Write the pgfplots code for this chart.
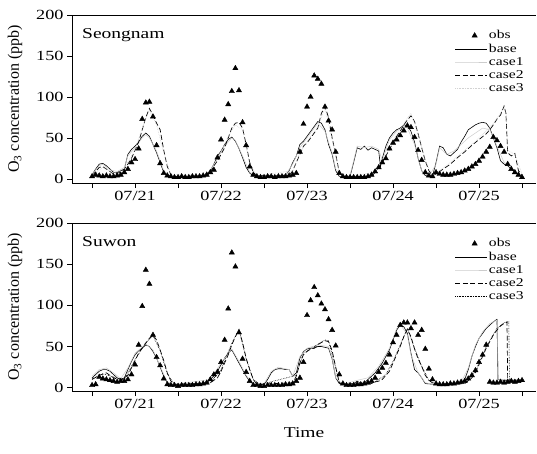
\documentclass[border=0pt]{standalone}
\usepackage{pgfplots}
\pgfplotsset{compat=1.18}
\usepackage{fontspec}
\setmainfont[FakeStretch=1.3]{Liberation Serif}
\newfontfamily\ylfont{Liberation Serif}

\pgfplotsset{
  panel/.style={
    scale only axis, width=464pt, height=168pt,
    xmin=-5.6, xmax=123.9,
    axis x line=box, axis y line=left,
    axis line style={-, line width=0.8pt},
    xtick={0,12,...,120},
    xticklabels={,07/21,,07/22,,07/23,,07/24,,07/25,},
    ytick={0,50,100,150,200},
    xtick pos=left, ytick pos=left,
    tick align=outside, major tick length=5pt,
    tick style={black, line width=0.7pt},
    tick label style={font=\fontsize{14}{16}\selectfont},
    /pgf/number format/assume math mode=true,
    every axis y label/.style={at={(rel axis cs:-0.123,0.5)}, rotate=90, anchor=center},
    ylabel={\ylfont\fontsize{16}{18}\selectfont O\textsubscript{3} concentration (ppb)},
    legend style={draw=none, fill=none, at={(rel axis cs:0.978,0.92)}, anchor=north east,
      font=\fontsize{12}{13}\selectfont, row sep=-0.5pt, inner sep=0pt},
    legend cell align=left,
  },
  linelegend/.style={legend image code/.code={\draw[mark repeat=2,mark phase=2,##1] plot coordinates {(0cm,0cm)(0.55cm,0cm)(1.1cm,0cm)};}},
  obslegend/.style={legend image code/.code={\draw[mark repeat=2,mark phase=2,##1] plot coordinates {(0.1cm,0cm)(0.68cm,0cm)(1.1cm,0cm)};}},
  obsstyle/.style={only marks, mark=triangle*, mark size=3pt, black, obslegend},
  basestyle/.style={black, line width=0.6pt, linelegend},
  case1style/.style={gray!40, line width=0.5pt, linelegend},
  case2style/.style={black, line width=0.7pt, dash pattern=on 5pt off 2.5pt, linelegend},
}

\begin{document}
\begin{tikzpicture}
\useasboundingbox (0pt,0pt) rectangle (537pt,453pt);

% ---------------- Seongnam ----------------
\begin{axis}[panel, at={(72pt,270pt)}, anchor=south west, ymin=-5, ymax=200]
\addplot[obsstyle] coordinates {
(0,3)(1,5)(2,4)(3,3)(4,4)(5,3)(6,3)(7,4)(8,5)(9,8)(10,12)(11,20)(12,24)(13,37)(14,73)(15,93)(16,94)(17,76)(18,41)(19,19)(20,7)(21,4)(22,3)(23,2)(24,2)(25,3)(26,2)(27,2)(28,3)(29,3)(30,3)(31,4)(32,5)(33,8)(34,11)(35,26)(36,48)(37,72)(38,91)(39,107)(40,135)(41,108)(42,69)(43,41)(44,15)(45,5)(46,3)(47,2)(48,2)(49,3)(50,3)(51,2)(52,3)(53,3)(54,3)(55,4)(56,5)(57,7)(58,33)(59,67)(60,88)(61,100)(62,126)(63,122)(64,116)(65,88)(66,71)(67,60)(68,33)(69,7)(70,3)(71,2)(72,2)(73,2)(74,2)(75,2)(76,2)(77,3)(78,5)(79,9)(80,14)(81,20)(82,25)(83,37)(84,44)(85,48)(86,53)(87,59)(88,65)(89,63)(90,51)(91,35)(92,23)(93,8)(94,4)(95,3)(96,8)(97,6)(98,5)(99,5)(100,5)(101,6)(102,7)(103,8)(104,10)(105,12)(106,15)(107,18)(108,22)(109,27)(110,33)(111,39)(112,51)(113,47)(114,40)(115,33)(116,18)(117,12)(118,8)(119,5)(120,2)
};
\addlegendentry{obs}
\addplot[basestyle] coordinates {
(0,5)(1,12)(2,18)(3,19)(4,16)(5,12)(6,8)(7,8)(8,10)(9,12)(10,30)(11,36)(12,40)(13,45)(14,52)(15,56)(16,52)(17,42)(18,32)(19,20)(20,8)(21,4)(22,3)(30,3)(32,5)(33,10)(34,18)(35,28)(36,34)(37,42)(38,48)(39,51)(40,46)(41,37)(42,26)(43,14)(44,7)(45,4)(52,3)(54,5)(55,10)(56,20)(57,28)(58,42)(59,46)(60,52)(61,58)(62,64)(63,70)(64,68)(65,60)(66,42)(67,30)(68,10)(69,3)(72,3)(73,20)(74,38)(75,36)(76,40)(77,35)(78,38)(79,36)(80,34)(80.5,15)(81,25)(82,40)(83,50)(84,56)(85,60)(86,62)(87,66)(88,65)(89,58)(90,45)(91,25)(92,10)(93,4)(95,3)(96,20)(97,40)(98,38)(99,30)(100,28)(101,32)(102,36)(103,45)(104,52)(105,60)(106,63)(107,66)(108,68)(109,69)(110,68)(111,62)(112,50)(113,38)(114,22)(115,18)(116,16)(117,12)(118,8)(119,5)(120,3)
};
\addlegendentry{base}
\addplot[case1style] coordinates {
(0,6)(2,16)(3,18)(5,11)(7,9)(9,14)(10,28)(12,38)(14,50)(15,54)(16,50)(18,34)(20,10)(22,3)(31,4)(33,10)(35,25)(37,40)(39,50)(40,47)(42,28)(44,8)(46,3)(54,5)(56,18)(58,38)(60,50)(62,62)(63,68)(65,58)(67,32)(68,12)(70,3)(72,4)(73,22)(74,40)(76,38)(78,40)(80,36)(81,22)(83,48)(85,58)(87,64)(88,62)(90,42)(92,10)(94,3)(96,18)(97,38)(99,30)(101,34)(103,42)(105,50)(107,56)(109,62)(111,60)(113,40)(115,20)(117,14)(119,6)(120,4)
};
\addlegendentry{case1}
\addplot[case2style] coordinates {
(0,4)(2,14)(3,15)(4,12)(6,6)(8,8)(9,12)(10,18)(11,25)(12,35)(13,45)(14,60)(15,75)(16,86)(17,78)(18,68)(19,60)(20,35)(21,15)(22,5)(23,3)(32,4)(33,8)(34,16)(35,22)(36,30)(37,38)(38,50)(39,62)(40,68)(41,69)(42,62)(43,42)(44,20)(45,8)(46,4)(55,4)(56,10)(57,20)(58,30)(59,40)(60,44)(61,50)(62,56)(63,62)(64,80)(65,88)(66,75)(67,50)(68,30)(69,8)(70,3)(78,3)(79,8)(80,14)(81,20)(82,28)(83,36)(84,44)(85,52)(86,58)(87,66)(88,72)(89,77)(90,70)(91,55)(92,38)(93,22)(94,10)(95,4)(96,6)(97,9)(98,12)(100,18)(102,26)(104,33)(106,41)(108,48)(110,55)(111,60)(112,66)(113,73)(114,78)(115,89)(115.5,80)(116,32)(117,28)(118,31)(119,10)(120,5)
};
\addlegendentry{case2}
\addplot[gray!35, line width=0.6pt, densely dotted, linelegend] coordinates {
(0,5)(3,14)(6,7)(9,13)(12,36)(14,62)(16,84)(18,66)(20,32)(22,5)(32,4)(35,24)(38,52)(40,66)(42,60)(44,18)(46,4)(56,10)(58,32)(61,52)(63,64)(65,86)(67,48)(69,8)(71,3)(79,8)(82,30)(85,54)(88,74)(89,80)(91,56)(93,22)(95,4)(97,10)(100,20)(104,35)(108,50)(112,68)(114,80)(115,90)(115.6,78)(116,35)(118,30)(120,6)
};
\addlegendentry{case3}
\node[anchor=base west, font=\fontsize{15}{17}\selectfont, inner sep=0pt] at (rel axis cs:0.0215,0.86) {Seongnam};
\end{axis}

% ---------------- Suwon ----------------
\begin{axis}[panel, at={(72pt,62pt)}, anchor=south west, ymin=-4, ymax=200,
  xlabel={\fontsize{15}{17}\selectfont Time},
  every axis x label/.style={at={(rel axis cs:0.5,0)}, yshift=-42pt, anchor=center}]
\addplot[obsstyle] coordinates {
(0,3)(1,4)(2,13)(3,11)(4,10)(5,9)(6,8)(7,7)(8,8)(9,8)(10,10)(11,16)(12,28)(13,52)(14,99)(15,143)(16,126)(17,64)(18,37)(19,27)(20,11)(21,4)(22,3)(23,3)(24,2)(25,3)(26,3)(27,3)(28,3)(29,4)(30,4)(31,5)(32,6)(33,10)(34,16)(35,19)(36,31)(37,58)(38,96)(39,164)(40,147)(41,67)(42,35)(43,19)(44,8)(45,3)(46,3)(47,2)(48,2)(49,3)(50,3)(51,3)(52,3)(53,3)(54,4)(55,4)(56,5)(57,8)(58,12)(59,31)(60,88)(61,106)(62,122)(63,112)(64,102)(65,95)(66,83)(67,70)(68,51)(69,16)(70,5)(71,3)(72,3)(73,3)(74,4)(75,4)(76,5)(77,6)(78,8)(79,12)(80,19)(81,24)(82,30)(83,40)(84,55)(85,64)(86,76)(87,79)(88,79)(89,72)(90,79)(91,64)(92,70)(93,47)(94,23)(95,10)(96,5)(97,4)(98,4)(99,4)(100,5)(101,5)(102,6)(103,7)(104,8)(105,11)(106,15)(107,21)(108,31)(109,40)(110,52)(111,7)(112,6)(113,6)(114,7)(115,6)(116,7)(117,8)(118,7)(119,8)(120,9)
};
\addlegendentry{obs}
\addplot[basestyle] coordinates {
(0,12)(1,16)(2,20)(3,22)(4,22)(5,20)(6,16)(7,12)(8,10)(9,12)(10,22)(11,32)(12,40)(13,45)(14,48)(15,52)(16,50)(17,44)(18,36)(19,25)(20,14)(21,6)(22,4)(30,4)(32,6)(33,10)(34,14)(35,20)(36,28)(37,36)(38,42)(39,46)(40,38)(41,30)(42,22)(43,14)(44,8)(45,4)(48,4)(49,10)(50,18)(51,22)(52,23)(53,23)(54,22)(55,22)(56,14)(57,18)(58,36)(59,44)(60,47)(61,48)(62,48)(63,50)(64,50)(65,49)(66,48)(67,35)(68,12)(69,5)(70,4)(73,5)(74,8)(75,5)(76,6)(77,10)(78,14)(79,18)(80,24)(81,30)(82,38)(83,46)(84,58)(85,70)(86,76)(87,74)(88,66)(89,42)(90,22)(91,18)(92,12)(93,5)(96,4)(100,5)(103,6)(104,10)(105,22)(106,38)(107,50)(108,60)(109,66)(110,72)(111,76)(112,80)(113,83)(113.3,10)(115,9)(118,9)(120,9)
};
\addlegendentry{base}
\addplot[case1style] coordinates {
(0,14)(2,22)(4,24)(6,18)(8,11)(10,24)(12,42)(15,53)(17,46)(19,26)(21,7)(23,4)(33,10)(36,30)(39,47)(41,32)(43,15)(45,5)(48,5)(50,20)(52,25)(55,22)(56,14)(58,38)(60,48)(63,52)(66,50)(67,36)(68,12)(70,4)(74,9)(77,12)(80,26)(83,48)(85,72)(86,77)(88,64)(89,40)(91,18)(93,6)(96,4)(103,7)(105,24)(107,52)(109,68)(111,78)(113,82)(113.4,10)(116,10)(120,10)
};
\addlegendentry{case1}
\addplot[case2style] coordinates {
(0,10)(2,15)(4,18)(6,12)(8,9)(10,15)(11,24)(12,33)(13,42)(14,48)(15,54)(16,60)(17,64)(18,58)(19,46)(20,33)(21,18)(22,8)(23,4)(33,6)(35,12)(36,20)(37,30)(38,40)(39,52)(40,62)(41,70)(42,55)(43,36)(44,22)(45,10)(46,4)(56,6)(57,14)(58,30)(59,40)(60,44)(61,47)(62,48)(63,52)(64,55)(65,57)(66,56)(67,45)(68,25)(69,6)(70,4)(78,5)(79,7)(80,8)(81,10)(82,15)(83,20)(84,30)(85,40)(86,50)(87,62)(88,71)(89,62)(90,47)(91,35)(92,26)(93,15)(94,9)(95,6)(96,4)(104,5)(106,12)(107,18)(108,28)(109,38)(110,48)(111,56)(112,64)(113,70)(114,75)(115,78)(115.8,80)(116,6)(118,6)(120,8)
};
\addlegendentry{case2}
\addplot[black, line width=0.6pt, densely dotted, linelegend] coordinates {
(0,11)(3,17)(6,13)(9,10)(12,34)(15,55)(17,63)(19,45)(21,17)(23,4)(33,6)(36,22)(39,54)(41,71)(43,35)(45,10)(47,4)(57,15)(59,42)(62,50)(65,58)(66,57)(68,24)(69,6)(71,4)(79,7)(82,16)(84,32)(86,52)(88,72)(90,48)(92,26)(94,9)(96,4)(104,5)(107,20)(110,50)(113,72)(115,79)(116.3,80)(116.5,8)(120,8)
};
\addlegendentry{case3}
\node[anchor=base west, font=\fontsize{15}{17}\selectfont, inner sep=0pt] at (rel axis cs:0.0215,0.86) {Suwon};
\end{axis}
\end{tikzpicture}
\end{document}
